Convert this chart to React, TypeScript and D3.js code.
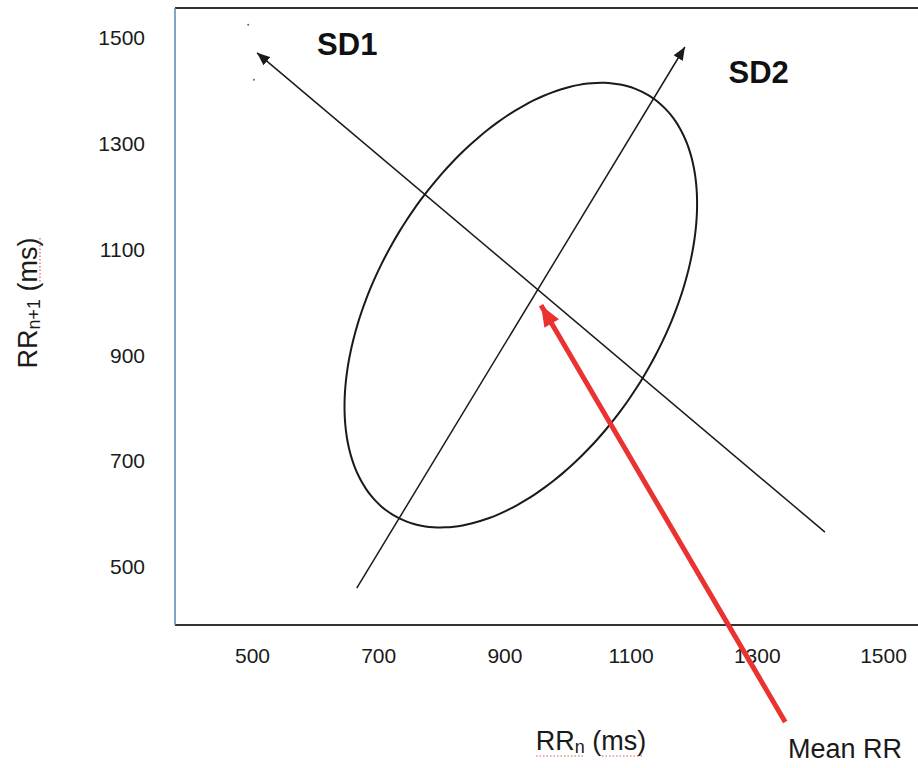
import React, { useEffect, useRef } from "react"
import * as d3 from "d3"

// tick labels on both axes (ms)
const xTicks = [500, 700, 900, 1100, 1300, 1500]
const yTicks = [500, 700, 900, 1100, 1300, 1500]

// ellipse: centre, end of the long (SD2) half axis, end of the short (SD1) half axis
const ellipseCenter = [926, 995]
const ellipseMajorEnd = [1128, 1392]
const ellipseMinorEnd = [733, 1133]

// SD1 and SD2 axis lines [from, to], arrow at "to"
const sd1Line = [[1408, 566], [508, 1472]]
const sd2Line = [[666, 460], [1186, 1483]]

// red arrow pointing at the mean RR
const meanArrow = [[1345, 207], [958, 995]]

// two stray specks near the top of the frame
const specks = [[494, 1525], [503, 1421]]

// axis labels
const sdLabels = [
  { text: "SD1", at: [651, 1468] },
  { text: "SD2", at: [1303, 1415] }
]

export default function App() {
  const ref = useRef(null)

  const width = 918
  const height = 768
  const frame = { left: 175, right: 918, top: 8, bottom: 625 }

  const x = d3.scaleLinear().domain([500, 1500]).range([252, 883])
  const y = d3.scaleLinear().domain([500, 1500]).range([567, 38])

  useEffect(() => {
    drawChart()
  }, [])

  function drawChart() {
    const svg = d3.select(ref.current)
    svg.selectAll("*").remove()

    const defs = svg.append("defs")
    defs.append("marker")
      .attr("id", "head-black")
      .attr("markerUnits", "userSpaceOnUse")
      .attr("viewBox", "0 0 12 10")
      .attr("refX", 12).attr("refY", 5)
      .attr("markerWidth", 13).attr("markerHeight", 11)
      .attr("orient", "auto")
      .append("path").attr("d", "M0,0 L12,5 L0,10 Z").attr("fill", "#1a1a1a")
    defs.append("marker")
      .attr("id", "head-red")
      .attr("markerUnits", "userSpaceOnUse")
      .attr("viewBox", "0 0 20 16")
      .attr("refX", 20).attr("refY", 8)
      .attr("markerWidth", 22).attr("markerHeight", 17)
      .attr("orient", "auto")
      .append("path").attr("d", "M0,0 L20,8 L0,16 Z").attr("fill", "#ea3230")

    const font = "'Liberation Sans', Arial, Helvetica, sans-serif"

    // frame
    svg.append("line")
      .attr("x1", frame.left).attr("x2", frame.right)
      .attr("y1", frame.top).attr("y2", frame.top)
      .attr("stroke", "#333").attr("stroke-width", 2)
    svg.append("line")
      .attr("x1", frame.left).attr("x2", frame.right)
      .attr("y1", frame.bottom).attr("y2", frame.bottom)
      .attr("stroke", "#333").attr("stroke-width", 2)
    svg.append("line")
      .attr("x1", frame.left).attr("x2", frame.left)
      .attr("y1", frame.top).attr("y2", frame.bottom)
      .attr("stroke", "#5a86b8").attr("stroke-width", 1.5)

    // tick labels
    const gx = svg.append("g")
      .attr("transform", `translate(0, ${frame.bottom})`)
      .call(d3.axisBottom(x).tickValues(xTicks).tickSize(0).tickPadding(23).tickFormat(d3.format("d")))
    gx.select(".domain").remove()
    gx.selectAll("text").attr("font-size", 21).attr("font-family", font).attr("fill", "#1a1a1a")

    const gy = svg.append("g")
      .attr("transform", `translate(${frame.left}, 0)`)
      .call(d3.axisLeft(y).tickValues(yTicks).tickSize(0).tickPadding(30).tickFormat(d3.format("d")))
    gy.select(".domain").remove()
    gy.selectAll("text").attr("font-size", 21).attr("font-family", font).attr("fill", "#1a1a1a")

    // ellipse from its conjugate half axes
    const ts = d3.range(0, 360, 3).map(d => (d * Math.PI) / 180)
    const ellipsePts = ts.map(t => [
      ellipseCenter[0] + (ellipseMajorEnd[0] - ellipseCenter[0]) * Math.cos(t) + (ellipseMinorEnd[0] - ellipseCenter[0]) * Math.sin(t),
      ellipseCenter[1] + (ellipseMajorEnd[1] - ellipseCenter[1]) * Math.cos(t) + (ellipseMinorEnd[1] - ellipseCenter[1]) * Math.sin(t)
    ])
    const line = d3.line().x(d => x(d[0])).y(d => y(d[1]))
    svg.append("path")
      .attr("d", d3.line().x(d => x(d[0])).y(d => y(d[1])).curve(d3.curveCardinalClosed)(ellipsePts))
      .attr("fill", "none")
      .attr("stroke", "#1a1a1a")
      .attr("stroke-width", 2)

    // SD axes
    svg.selectAll(".sd-line")
      .data([sd1Line, sd2Line])
      .enter()
      .append("path")
      .attr("class", "sd-line")
      .attr("d", d => line(d))
      .attr("stroke", "#1a1a1a")
      .attr("stroke-width", 1.5)
      .attr("fill", "none")
      .attr("marker-end", "url(#head-black)")

    svg.selectAll(".speck")
      .data(specks)
      .enter()
      .append("circle")
      .attr("class", "speck")
      .attr("cx", d => x(d[0]))
      .attr("cy", d => y(d[1]))
      .attr("r", 1)
      .attr("fill", "#666")

    // mean RR arrow
    svg.append("path")
      .attr("d", line(meanArrow))
      .attr("stroke", "#ea3230")
      .attr("stroke-width", 5)
      .attr("fill", "none")
      .attr("marker-end", "url(#head-red)")

    svg.selectAll(".sd-label")
      .data(sdLabels)
      .enter()
      .append("text")
      .attr("class", "sd-label")
      .attr("x", d => x(d.at[0]))
      .attr("y", d => y(d.at[1]))
      .attr("text-anchor", "middle")
      .attr("font-family", font)
      .attr("font-weight", "bold")
      .attr("font-size", 31)
      .attr("fill", "#111")
      .text(d => d.text)

    // x title with spell-check dots
    const xt = svg.append("text")
      .attr("x", 591).attr("y", 750)
      .attr("text-anchor", "middle")
      .attr("font-family", font)
      .attr("font-size", 27)
      .attr("fill", "#1a1a1a")
    xt.append("tspan").text("RR")
    xt.append("tspan").attr("font-size", 18).attr("dy", 3).text("n")
    xt.append("tspan").attr("dy", -3).text(" (ms)")
    svg.append("line")
      .attr("x1", 536).attr("x2", 583).attr("y1", 756).attr("y2", 756)
      .attr("stroke", "#e05a5a").attr("stroke-width", 1.2).attr("stroke-dasharray", "1.5,2")
    svg.append("line")
      .attr("x1", 602).attr("x2", 642).attr("y1", 756).attr("y2", 756)
      .attr("stroke", "#e05a5a").attr("stroke-width", 1.2).attr("stroke-dasharray", "1.5,2")

    // y title
    const yt = svg.append("text")
      .attr("transform", "translate(37, 303) rotate(-90)")
      .attr("text-anchor", "middle")
      .attr("font-family", font)
      .attr("font-size", 27)
      .attr("fill", "#1a1a1a")
    yt.append("tspan").text("RR")
    yt.append("tspan").attr("font-size", 18).attr("dy", 3).text("n+1")
    yt.append("tspan").attr("dy", -3).text(" (ms)")
    svg.append("line")
      .attr("x1", 40).attr("x2", 40).attr("y1", 238).attr("y2", 283)
      .attr("stroke", "#e05a5a").attr("stroke-width", 1.2).attr("stroke-dasharray", "1.5,2")

    svg.append("text")
      .attr("x", 845).attr("y", 758)
      .attr("text-anchor", "middle")
      .attr("font-family", font)
      .attr("font-size", 27)
      .attr("fill", "#1a1a1a")
      .text("Mean RR")
  }

  return (
    <svg
      ref={ref}
      width={width}
      height={height}
      style={{ position: "absolute", left: 0, top: 0, background: "#fff" }}
    />
  )
}
